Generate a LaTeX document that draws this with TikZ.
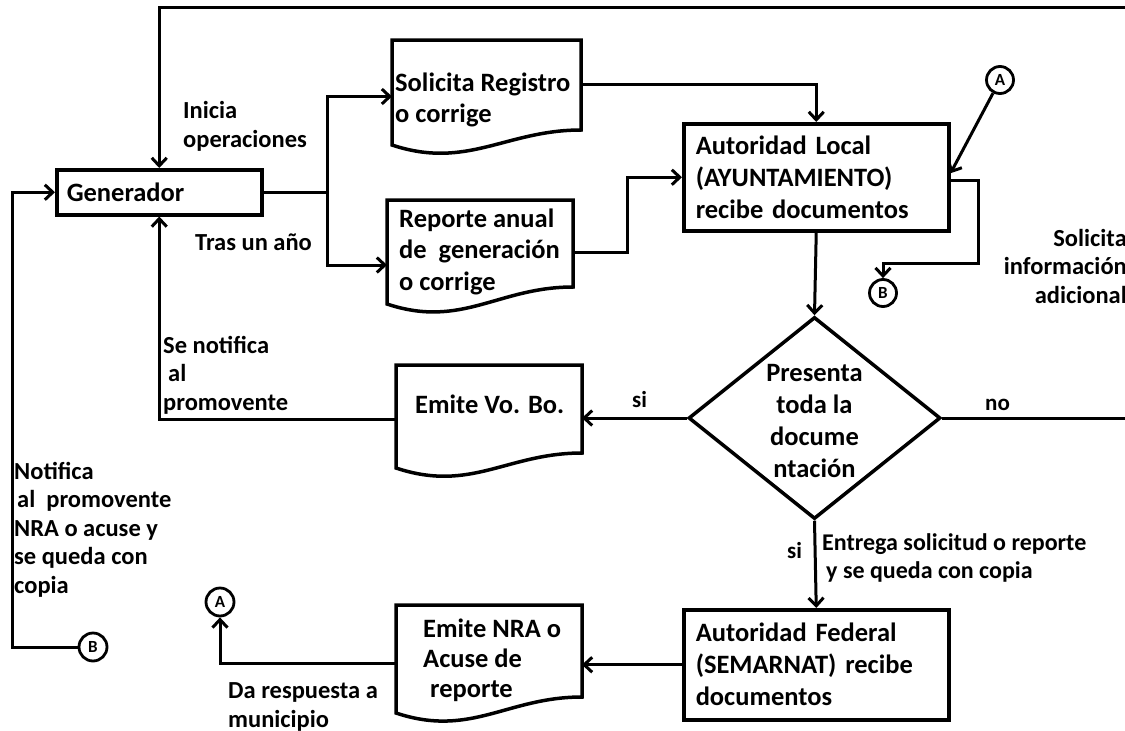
\documentclass[tikz,border=0pt]{standalone}
\usepackage{fontspec}
\setmainfont{Carlito}
\usetikzlibrary{shapes.geometric,arrows.meta,calc}

% document-style flowchart box: straight top and sides, wavy bottom edge
\newcommand\docshape[2]{%
  \draw[boxline] (#1.south west) -- (#1.north west) -- (#1.north east)
    -- ($(#1.south east)+(0,-#2)$) .. controls +(-75,0) and +(75,25) .. (#1.south west) -- cycle;}

\begin{document}
\begin{tikzpicture}[x=1pt,y=-1pt,
  boxline/.style={line width=3.5pt},
  box/.style={draw, boxline, rectangle, anchor=north west},
  docnode/.style={rectangle, anchor=north west, inner sep=0pt, outer sep=0pt},
  flow/.style={line width=3pt},
  arr/.style={flow, -{Straight Barb[length=8pt,width=15pt]}},
  bigtxt/.style={font=\fontsize{26.5}{32}\selectfont\bfseries, inner sep=0pt, align=left},
  lbl/.style={font=\fontsize{24.5}{28.5}\selectfont\bfseries, inner sep=0pt, anchor=base west, align=left},
  sm/.style={font=\fontsize{23}{28}\selectfont\bfseries, inner sep=0pt, anchor=base west, align=left},
  conn/.style={circle, draw, line width=2.8pt, minimum size=27pt, inner sep=0pt,
    font=\fontsize{17}{17}\selectfont\bfseries}
]
\useasboundingbox (0,0) rectangle (1125,731);

% process boxes
\node[box, bigtxt, minimum width=205pt, minimum height=45pt, text width=185pt, inner xsep=10pt]
  (gen) at (55,168) {Generador};
\node[box, bigtxt, minimum width=265pt, minimum height=107pt, text width=241pt, inner xsep=12pt]
  (al) at (682,122) {Autoridad Local\\(AYUNTAMIENTO)\\recibe documentos};
\node[box, bigtxt, minimum width=265pt, minimum height=110pt, text width=241pt, inner xsep=12pt]
  (af) at (682,608) {Autoridad Federal\\(SEMARNAT) recibe\\documentos};

% document boxes (multi-line texts are placed by the baseline of their last line)
\node[docnode, minimum width=189pt, minimum height=105pt] (sol) at (392,40) {};
\node[docnode, minimum width=186pt, minimum height=104pt] (rep) at (387,200) {};
\node[docnode, minimum width=186pt, minimum height=103pt] (vobo) at (396,365) {};
\node[docnode, minimum width=186pt, minimum height=108pt] (nra) at (396,605) {};
\docshape{sol}{15}
\docshape{rep}{17}
\docshape{vobo}{15}
\docshape{nra}{16}
\node[bigtxt, anchor=base west, font=\fontsize{26.5}{31}\selectfont\bfseries] (solt) at (395,122) {Solicita Registro\\o corrige};
\node[bigtxt, anchor=base west, font=\fontsize{26.5}{31.5}\selectfont\bfseries] (rept) at (399,290) {Reporte anual\\de\ \ generación\\o corrige};
\node[bigtxt, anchor=base west] (vobot) at (415,413) {Emite Vo. Bo.};
\node[bigtxt, anchor=base west, font=\fontsize{26.5}{30}\selectfont\bfseries] (nrat) at (423,697) {Emite NRA o\\Acuse de\\\hspace*{7pt}reporte};

% decision
\node[draw, boxline, diamond, minimum width=252pt, minimum height=202pt, inner sep=0pt]
  (dec) at (814.5,418) {};
\node[bigtxt, align=center, anchor=base] (dect) at (814.5,477) {Presenta\\toda la\\docume\\ntación};

% off-page connectors
\node[conn] (aR) at (1000,80) {A};
\node[conn] (bR) at (883,293) {B};
\node[conn, minimum size=28pt] (aL) at (220,602) {A};
\node[conn, minimum size=28pt] (bL) at (93,647) {B};

% free ends and bends
\coordinate (topR) at (1125,7);
\coordinate (noR) at (1125,418);
\coordinate (fork) at (327,0);
\coordinate (jog) at (627,0);
\coordinate (rt) at (978,263);
\coordinate (lc) at (12,647);

% connectors
\draw[arr] (topR) -| (gen.north);
\draw[arr] (gen.east) -- (gen.east -| fork) |- ([yshift=-4pt]sol.west);
\draw[arr] (gen.east -| fork) |- ([yshift=-13pt]rep.west);
\draw[arr] ([yshift=8pt]sol.east) -| (al.north);
\draw[arr] (rep.east) -- (rep.east -| jog) |- (al.west);
\draw[arr] (aR) -- ([yshift=4pt]al.east);
\draw[arr] ([yshift=-3pt]al.east) -| (rt) -| (bR.north);
\draw[arr] (al.south) -- (dec.north);
\draw[arr] (dec.west) -- (dec.west -| vobo.east);
\draw[flow] (dec.east) -- (noR);
\draw[arr] (dec.south) -- (af.north);
\draw[arr] (af.west) -- (af.west -| nra.east);
\draw[arr] ([yshift=-4pt]nra.west) -| (aL.south);
\draw[arr] ([yshift=-3pt]vobo.west) -| (gen.south);
\draw[arr] (bL) -- (lc) |- (gen.west);

% labels
\node[lbl] (l1) at (183,147) {Inicia\\operaciones};
\node[lbl] (l2) at (195,250) {Tras un año};
\node[lbl] (l3) at (163,410) {Se notifica\\\hspace*{5pt}al\\promovente};
\node[lbl] (l4) at (14,593) {Notifica\\\hspace*{3pt}al\ \ promovente\\NRA o acuse y\\se queda con\\copia};
\node[lbl] (l5) at (228,727) {Da respuesta a\\municipio};
\node[lbl, align=right, anchor=base east] (l6) at (1127,303) {Solicita\\información\\adicional};
\node[sm] (lno) at (985,410) {no};
\node[sm] (lsi1) at (632,407) {si};
\node[sm] (lsi2) at (787,558) {si};
\node[sm, font=\fontsize{24}{28}\selectfont\bfseries] (lent) at (822,578) {Entrega solicitud o reporte\\\hspace*{4pt}y se queda con copia};
\end{tikzpicture}
\end{document}
